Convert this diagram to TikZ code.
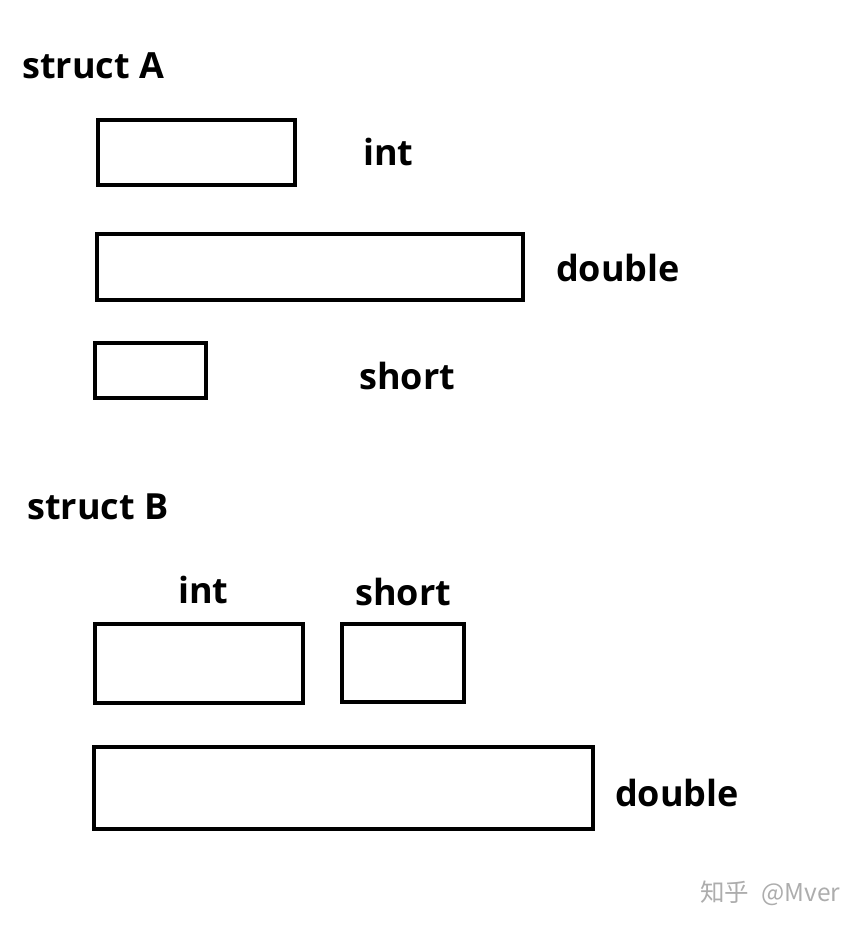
\documentclass[tikz,border=0pt]{standalone}
\usepackage{fontspec}
\setmainfont{Open Sans}
\newfontfamily\cjk{Noto Sans CJK SC}
\begin{document}
\begin{tikzpicture}[x=1pt,y=-1pt,
  fieldbox/.style={draw=black,line width=4pt},
  lbl/.style={font=\fontsize{36}{42}\selectfont\bfseries,anchor=west,inner sep=0pt,text=black},
  wm/.style={font=\cjk\fontsize{24.5}{28}\selectfont,text=black!32,anchor=west,inner sep=0pt}]
\useasboundingbox[fill=white] (0,0) rectangle (864,929);
% struct A
\node[lbl] (ta) at (22,66) {struct A};
\draw[fieldbox] (98,120) rectangle (295,185);
\node[lbl] (aint) at (363,152) {int};
\draw[fieldbox] (97,234) rectangle (523,300);
\node[lbl] (adouble) at (556,268) {double};
\draw[fieldbox] (95,343) rectangle (206,398);
\node[lbl] (ashort) at (359,376) {short};
% struct B
\node[lbl] (tb) at (27,507) {struct B};
\node[lbl] (bint) at (178,590) {int};
\node[lbl] (bshort) at (355,592) {short};
\draw[fieldbox] (95,624) rectangle (303,703);
\draw[fieldbox] (342,624) rectangle (464,702);
\draw[fieldbox] (94,747) rectangle (593,829);
\node[lbl] (bdouble) at (615,793) {double};
% watermark
\node[wm] (wmk) at (700,893) {知乎\hspace{0.5em}@Mver};
\end{tikzpicture}
\end{document}
